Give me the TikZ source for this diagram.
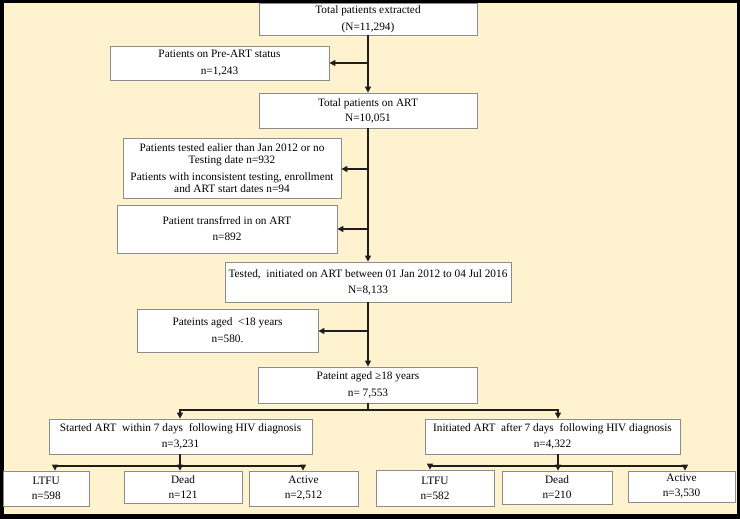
\documentclass[tikz,border=0pt]{standalone}
\usepackage{fontspec}
\setmainfont{Liberation Serif}
\usetikzlibrary{arrows.meta}
\definecolor{bgc}{RGB}{255,242,206}
\definecolor{bordc}{RGB}{140,140,140}
\definecolor{linec}{RGB}{30,30,30}
\begin{document}
\begin{tikzpicture}[x=1pt,y=-1pt,
  box/.style={draw=bordc, line width=0.8pt, fill=white, inner sep=0pt, align=center, font=\fontsize{11.3}{12}\selectfont},
  conn/.style={draw=linec, line width=1.3pt},
  arr/.style={conn, -{Triangle[length=6pt,width=6pt]}}]
\useasboundingbox (0,0) rectangle (740,519);
\fill[black] (0,0) rectangle (740,519);
\fill[bgc] (3.5,3) rectangle (737,513.5);

\node[box, minimum width=218pt, minimum height=32pt] (b1) at (368,19) {Total patients extracted\\[5pt](N=11,294)};
\node[box, minimum width=219pt, minimum height=34pt] (pre) at (219.5,63) {Patients on Pre-ART status\\[5pt]n=1,243};
\node[box, minimum width=218pt, minimum height=35pt] (b3) at (368,110.5) {Total patients on ART\\[3pt]N=10,051};
\node[box, minimum width=218pt, minimum height=60pt] (b4) at (232,168) {Patients tested ealier than Jan 2012 or no\\Testing date n=932\\[5pt]Patients with inconsistent testing, enrollment\\and ART start dates n=94};
\node[box, minimum width=220pt, minimum height=48pt] (b5) at (227,229) {Patient transfrred in on ART\\[4pt]n=892};
\node[box, minimum width=286pt, minimum height=40pt] (b6) at (368,282) {Tested, \ initiated on ART between 01 Jan 2012 to 04 Jul 2016\\[4pt]N=8,133};
\node[box, minimum width=181pt, minimum height=43pt] (b7) at (227.5,330.5) {Pateints aged \ <18 years\\[5pt]n=580.};
\node[box, minimum width=219pt, minimum height=36pt] (b8) at (368,385) {Pateint aged ≥18 years\\[5pt]n= 7,553};
\node[box, minimum width=263pt, minimum height=35pt] (b9) at (180.5,436.5) {Started ART \ within 7 days \ following HIV diagnosis\\[4pt]n=3,231};
\node[box, minimum width=255pt, minimum height=35pt] (b10) at (552.5,436.5) {Initiated ART \ after 7 days \ following HIV diagnosis\\[4pt]n=4,322};
\node[box, minimum width=85.5pt, minimum height=35pt] (l1) at (46.25,488.5) {LTFU\\[3pt]n=598};
\node[box, minimum width=118pt, minimum height=32pt] (d1) at (183,487) {Dead\\[3pt]n=121};
\node[box, minimum width=109pt, minimum height=35pt] (a1) at (303.5,488.5) {Active\\[3pt]n=2,512};
\node[box, minimum width=118pt, minimum height=36pt] (l2) at (435,488) {LTFU\\[3pt]n=582};
\node[box, minimum width=110pt, minimum height=33pt] (d2) at (557,487.5) {Dead\\[3pt]n=210};
\node[box, minimum width=107pt, minimum height=31pt] (a2) at (681.5,486.5) {Active\\[3pt]n=3,530};

% main trunk
\draw[arr] (b1.south) -- (b3.north);
\coordinate (j1) at (368,63);
\draw[arr] (j1) -- (j1 -| pre.east);
\draw[arr] (b3.south) -- (b6.north);
\coordinate (j2) at (368,169);
\draw[arr] (j2) -- (j2 -| b4.east);
\coordinate (j3) at (368,229);
\draw[arr] (j3) -- (j3 -| b5.east);
\draw[arr] (b6.south) -- (b8.north);
\coordinate (j4) at (368,331);
\draw[arr] (j4) -- (j4 -| b7.east);

% split
\coordinate (s1) at (368,410);
\coordinate (hL) at (180,410);
\coordinate (hR) at (558,410);
\draw[conn] (b8.south) -- (s1);
\draw[arr] (s1) -- (hL) -- (hL |- b9.north);
\draw[arr] (s1) -- (hR) -- (hR |- b10.north);

% left outcomes
\coordinate (t1) at (180,466);
\coordinate (t1L) at (55,466);
\coordinate (t1R) at (303,466);
\draw[arr] (t1 |- b9.south) -- (t1 |- d1.north);
\draw[arr] (t1) -- (t1L) -- (t1L |- l1.north);
\draw[arr] (t1) -- (t1R) -- (t1R |- a1.north);

% right outcomes
\coordinate (t2) at (558,466);
\coordinate (t2L) at (430,466);
\coordinate (t2R) at (685,466);
\draw[arr] (t2 |- b10.south) -- (t2 |- d2.north);
\draw[arr] (t2) -- (t2L) -- (t2L |- l2.north);
\draw[arr] (t2) -- (t2R) -- (t2R |- a2.north);
\end{tikzpicture}
\end{document}
